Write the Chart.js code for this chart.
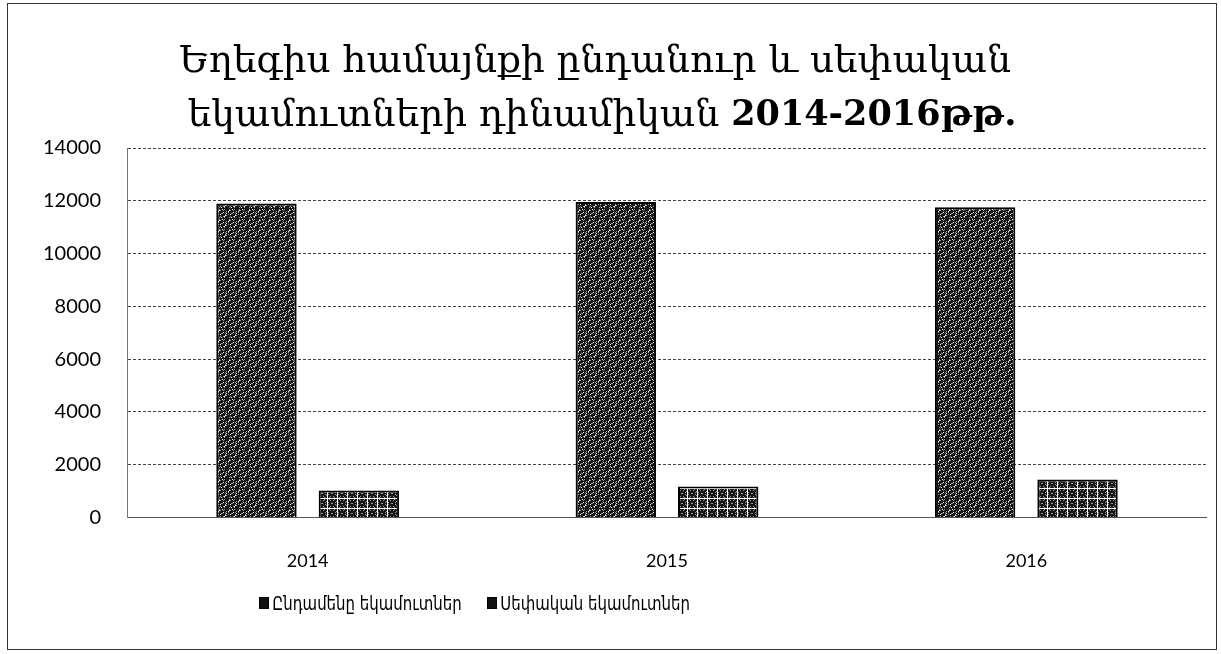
<!DOCTYPE html>
<html>
<head>
<meta charset="utf-8">
<script src="https://cdn.jsdelivr.net/npm/chart.js@4.4.1/dist/chart.umd.min.js"></script>
<style>
  html, body { margin: 0; padding: 0; background: #fff; }
  #wrap { position: absolute; left: 7px; top: 3px; width: 1210px; height: 647px; border: 1px solid #333; box-sizing: border-box; }
  #legend { position: absolute; left: 0; top: 587px; width: 100%; font-family: 'DejaVu Sans Condensed', 'DejaVu Sans', sans-serif; font-size: 20px; color: #000; }
  #legend span.item { position: absolute; white-space: nowrap; transform: scaleX(0.83); transform-origin: 0 50%; }
  #legend i { display: inline-block; width: 10px; height: 10px; background: #111; border: 1px solid #000; margin-right: 4px; vertical-align: 1px; }
</style>
</head>
<body>
<div id="wrap"><canvas id="incomeChart"></canvas><div id="legend"></div></div>
<script>
var years = ['2014', '2015', '2016'];
var totalIncome = [11900, 11950, 11750];
var ownIncome = [1020, 1170, 1440];
var yTicks = [0, 2000, 4000, 6000, 8000, 10000, 12000, 14000];
var seriesNames = ['Ընդամենը եկամուտներ', 'Սեփական եկամուտներ'];
var titleLine1 = 'Եղեգիս համայնքի ընդանուր և սեփական';
var titleLine2 = ['եկամուտների դինամիկան ', '2014-2016թթ.'];

// speckled dark fill, a bit like the scanned bars
function makePattern(light) {
    var c = document.createElement('canvas');
    c.width = 10; c.height = 10;
    var g = c.getContext('2d');
    g.fillStyle = '#151515';
    g.fillRect(0, 0, 10, 10);
    for (var y = 0; y < 10; y++) {
        for (var x = 0; x < 10; x++) {
            var h = (x * 7 + y * 13 + x * y) % 11;
            if (h === 0 || h === 5) { g.fillStyle = '#9a9a9a'; g.fillRect(x, y, 1, 1); }
            else if (h === light) { g.fillStyle = '#ffffff'; g.fillRect(x, y, 1, 1); }
        }
    }
    return g.createPattern(c, 'repeat');
}

// title with the years part in bold, like the original
var titlePlugin = {
    id: 'mixedTitle',
    afterDraw: function (chart) {
        var g = chart.ctx;
        var cx = chart.width / 2 - 17;
        var reg = '37.5px "DejaVu Serif"';
        var bold = 'bold 35px "DejaVu Serif"';
        g.save();
        g.fillStyle = '#000';
        g.textBaseline = 'middle';
        g.textAlign = 'left';
        g.font = reg;
        var w1 = g.measureText(titleLine1).width;
        g.fillText(titleLine1, cx - w1 / 2, 58);
        var wa = g.measureText(titleLine2[0]).width;
        g.font = bold;
        var wb = g.measureText(titleLine2[1]).width;
        var x0 = cx + 7 - (wa + wb) / 2;
        g.font = reg;
        g.fillText(titleLine2[0], x0, 112);
        g.font = bold;
        g.fillText(titleLine2[1], x0 + wa, 112);
        g.restore();
    }
};

var ctx = document.getElementById('incomeChart');
ctx.width = 1208; ctx.height = 645;

var incomeChart = new Chart(ctx, {
    type: 'bar',
    data: {
        labels: years,
        datasets: [
            {
                label: seriesNames[0],
                data: totalIncome,
                backgroundColor: makePattern(3),
                borderColor: '#000',
                borderWidth: 2
            },
            {
                label: seriesNames[1],
                data: ownIncome,
                backgroundColor: makePattern(8),
                borderColor: '#000',
                borderWidth: 2
            }
        ]
    },
    options: {
        responsive: false,
        animation: false,
        layout: { padding: { left: 8, right: 10, top: 144, bottom: 52 } },
        datasets: { bar: { categoryPercentage: 0.57, barPercentage: 0.785 } },
        plugins: {
            title: { display: false },
            legend: { display: false },
            tooltip: { enabled: false }
        },
        scales: {
            x: {
                grid: { display: false },
                border: { color: '#555' },
                ticks: { font: { family: 'Lato', size: 18 }, color: '#000', padding: 25 }
            },
            y: {
                min: 0,
                max: 14000,
                afterBuildTicks: function (axis) {
                    axis.ticks = yTicks.map(function (v) { return { value: v }; });
                },
                grid: { color: '#444', lineWidth: 1, tickLength: 0 },
                border: { color: '#777', dash: [3, 2] },
                ticks: {
                    font: { family: 'Lato', size: 20 },
                    color: '#000',
                    padding: 27,
                    callback: function (v) { return String(v); }
                }
            }
        }
    },
    plugins: [titlePlugin]
});

// legend as html under the chart, placed left of centre like the original
var legendEl = document.getElementById('legend');
var legendX = [251, 479];
incomeChart.data.datasets.forEach(function (ds, i) {
    var s = document.createElement('span');
    s.className = 'item';
    s.style.left = legendX[i] + 'px';
    s.innerHTML = '<i></i>';
    s.appendChild(document.createTextNode(ds.label));
    legendEl.appendChild(s);
});
</script>
</body>
</html>
